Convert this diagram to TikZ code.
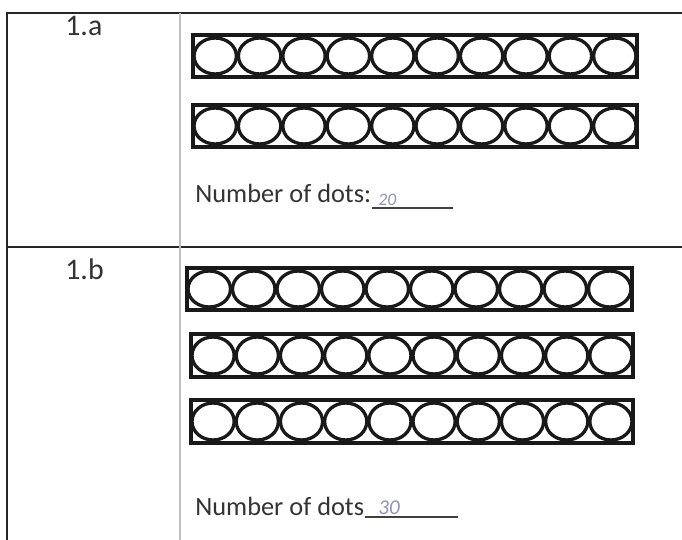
\documentclass[tikz,border=0pt]{standalone}
\usepackage{fontspec}
\setmainfont{Carlito}
\usepackage{tikz}
\usetikzlibrary{positioning}

\begin{document}
\begin{tikzpicture}[
  x=0.02cm,
  y=-0.02cm,
  frame/.style={draw=black!85, line width=1.3pt},
  divider/.style={draw=gray!50, line width=0.9pt},
  strip/.style={draw=black!90, line width=2.1pt},
  bead/.style={draw=black!90, line width=1.9pt},
  rowlabel/.style={font=\fontsize{17}{20}\selectfont, anchor=base west, inner sep=0pt, text=black!80},
  dotslabel/.style={font=\fontsize{15}{18}\selectfont, anchor=base west, inner sep=0pt, text=black!80},
  answer/.style={anchor=base west, inner sep=0pt, text=blue!25!gray!70},
  blank/.style={draw=black!75, line width=1pt}
]
\useasboundingbox (0,0) rectangle (682,540);

% table lines
\draw[frame] (7,540) -- (7,13) -- (682,13);
\draw[frame] (7,247) -- (682,247);
\draw[divider] (180,13) -- (180,540);

% row labels
\node[rowlabel] (lab-a) at (65,36) {1.a};
\node[rowlabel] (lab-b) at (65,279) {1.b};

% ten-frame strips
\foreach \s/\xa/\ya/\xb/\yb in {a1/193/35/637/77, a2/193/105/637/147,
    b1/187/268/632/310, b2/191/334/633/377, b3/191/400/633/443} {
  \draw[strip] (\xa,\ya) rectangle (\xb,\yb);
  \pgfmathsetmacro{\w}{(\xb-\xa)/10}
  \pgfmathsetmacro{\yc}{(\ya+\yb)/2}
  \pgfmathsetmacro{\ry}{(\yb-\ya)/2-3}
  \foreach \i in {0,...,9} {
    \draw[bead] ({\xa+(\i+0.5)*\w},\yc) ellipse [x radius={\w/2-1}, y radius=\ry];
  }
}

% number of dots
\node[dotslabel] (dots-a) at (195,203) {Number of dots:};
\coordinate (blank-a) at (453,208);
\draw[blank] (dots-a.base east |- blank-a) -- (blank-a);
\node[answer, font=\fontsize{10}{11}\selectfont\itshape] (ans-a) at (378,206) {20};

\node[dotslabel] (dots-b) at (195,515) {Number of dots};
\coordinate (blank-b) at (458,517);
\draw[blank] (dots-b.base east |- blank-b) -- (blank-b);
\node[answer, font=\fontsize{12}{13}\selectfont\itshape] (ans-b) at (378,514) {30};
\end{tikzpicture}
\end{document}
